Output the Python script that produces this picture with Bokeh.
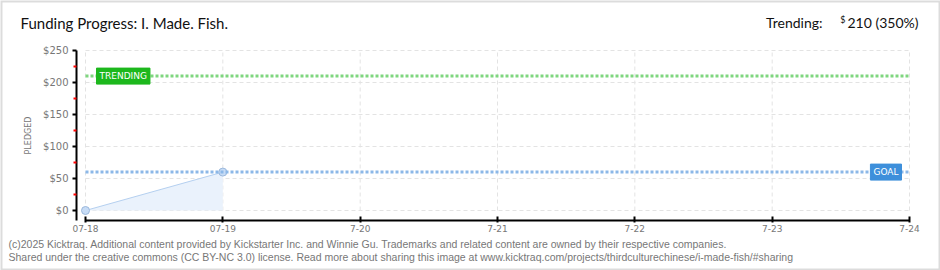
from bokeh.plotting import figure
from bokeh.models import (Label, FixedTicker, ColumnDataSource, Range1d, BoxAnnotation, LinearAxis)
from bokeh.embed import file_html
from bokeh.resources import INLINE

# ---- data ----
days = [0, 1]
pledged = [0, 60]
tick_days = [0, 1, 2, 3, 4, 5, 6]
tick_labels = ["07-18", "07-19", "7-20", "7-21", "7-22", "7-23", "7-24"]
y_ticks = [0, 50, 100, 150, 200, 250]
y_minor = [25, 75, 125, 175, 225]
y_tick_labels = ["$0", "$50", "$100", "$150", "$200", "$250"]
goal = 60
trending = 210
title_text = "Funding Progress: I. Made. Fish."
trend_head = "Trending:"
trend_cur = "$"
trend_val = "210 (350%)"
footer1 = "(c)2025 Kicktraq. Additional content provided by Kickstarter Inc. and Winnie Gu. Trademarks and related content are owned by their respective companies."
footer2 = "Shared under the creative commons (CC BY-NC 3.0) license. Read more about sharing this image at www.kicktraq.com/projects/thirdculturechinese/i-made-fish/#sharing"

W, H = 940, 270
# page-pixel geometry of the plotting area
X0, X6 = 85.0, 909.0     # page x of first / last day
Y0, Y250 = 210.0, 50.0   # page y of $0 / $250
dx = (X6 - X0) / (tick_days[-1] - tick_days[0])
dy = (Y0 - Y250) / 250.0

x_start = tick_days[0] - X0 / dx
x_end = tick_days[0] + (W - X0) / dx
y_start = -(H - Y0) / dy
y_end = Y0 / dy


def xd(px):
    return tick_days[0] + (px - X0) / dx


def yd(py):
    return (Y0 - py) / dy


def sx(px):
    return px


def sy(py):
    return H - py


p = figure(width=W, height=H, output_backend="svg", toolbar_location=None,
           x_range=Range1d(x_start, x_end), y_range=Range1d(y_start, y_end),
           x_axis_location=None, y_axis_location=None,
           min_border=0)
p.outline_line_color = None
p.background_fill_color = "white"
p.border_fill_color = "white"
p.xgrid.visible = False
p.ygrid.visible = False

# dashed grid
p.segment(x0=[tick_days[0]] * len(y_ticks), x1=[tick_days[-1]] * len(y_ticks), y0=y_ticks, y1=y_ticks,
          line_color="#e3e3e3", line_width=1, line_dash="4 3")
p.segment(x0=tick_days, x1=tick_days, y0=[y_ticks[0]] * len(tick_days), y1=[y_ticks[-1]] * len(tick_days),
          line_color="#e3e3e3", line_width=1, line_dash="4 3")

# x axis
xa = LinearAxis(fixed_location=yd(220))
xa.ticker = FixedTicker(ticks=tick_days)
xa.major_label_overrides = {d: l for d, l in zip(tick_days, tick_labels)}
xa.bounds = (tick_days[0], tick_days[-1])
xa.axis_line_color = "black"
xa.axis_line_width = 2
xa.major_tick_line_color = "black"
xa.major_tick_line_width = 2
xa.major_tick_in = 4
xa.major_tick_out = 2
xa.minor_tick_line_color = None
xa.major_label_text_font = "DejaVu Sans"
xa.major_label_text_font_size = "9px"
xa.major_label_text_color = "#777777"
xa.major_label_standoff = 2
p.add_layout(xa, "below")

# y axis
ya = LinearAxis(fixed_location=xd(76))
ya.ticker = FixedTicker(ticks=y_ticks, minor_ticks=y_minor)
ya.major_label_overrides = {v: l for v, l in zip(y_ticks, y_tick_labels)}
ya.bounds = (yd(220), y_ticks[-1])
ya.axis_line_color = "black"
ya.axis_line_width = 2
ya.major_tick_line_color = "black"
ya.major_tick_line_width = 2
ya.major_tick_in = 0
ya.major_tick_out = 4
ya.minor_tick_line_color = "red"
ya.minor_tick_line_width = 2
ya.minor_tick_in = 0
ya.minor_tick_out = 3
ya.major_label_text_font = "DejaVu Sans"
ya.major_label_text_font_size = "10px"
ya.major_label_text_color = "#777777"
ya.major_label_standoff = 4
ya.axis_label = "PLEDGED"
ya.axis_label_text_font = "DejaVu Sans"
ya.axis_label_text_font_size = "8px"
ya.axis_label_text_font_style = "normal"
ya.axis_label_text_color = "#777777"
ya.axis_label_standoff = 7
p.add_layout(ya, "left")

# pledged area + line + points
src = ColumnDataSource(dict(x=days, y=pledged, base=[0] * len(days)))
p.varea(x="x", y1="base", y2="y", source=src, fill_color="#eaf2fc")
p.line(x="x", y="y", source=src, line_color="#b5d0f0", line_width=1)
p.scatter(x="x", y="y", source=src, size=8, fill_color="#c7dcf6", line_color="#9bb8dc", line_width=1)

# goal and trending lines
x_span = [tick_days[0], tick_days[-1]]
p.line(x=x_span, y=[goal, goal], line_color="#8cb8e8", line_width=3, line_dash="3 2")
p.line(x=x_span, y=[trending, trending], line_color="#7fd67f", line_width=3, line_dash="3 2")

# badges
p.add_layout(Label(x=xd(96), y=trending, text="TRENDING", text_color="white", text_font="DejaVu Sans",
                   text_font_size="9px", text_baseline="middle", text_align="left",
                   background_fill_color="#1db81d", border_line_color="#1db81d",
                   padding=3))
p.add_layout(Label(x=xd(901), y=goal, text="GOAL", text_color="white", text_font="DejaVu Sans",
                   text_font_size="9px", text_baseline="middle", text_align="right",
                   background_fill_color="#3d8fdb", border_line_color="#3d8fdb",
                   padding=3))

# title / header / footer
p.add_layout(Label(x=sx(20), y=sy(22), x_units="screen", y_units="screen", text=title_text,
                   text_font="Lato", text_font_size="15px", text_color="#111111",
                   text_baseline="middle"))
p.add_layout(Label(x=sx(822), y=sy(22), x_units="screen", y_units="screen", text=trend_head,
                   text_font="Lato", text_font_size="14px", text_color="#111111",
                   text_baseline="middle", text_align="right"))
p.add_layout(Label(x=sx(845), y=sy(19), x_units="screen", y_units="screen", text=trend_cur,
                   text_font="Lato", text_font_size="9px", text_color="#111111",
                   text_baseline="middle", text_align="right"))
p.add_layout(Label(x=sx(918), y=sy(22), x_units="screen", y_units="screen", text=trend_val,
                   text_font="Lato", text_font_size="14px", text_color="#111111",
                   text_baseline="middle", text_align="right"))
p.add_layout(Label(x=sx(8), y=sy(243), x_units="screen", y_units="screen", text=footer1,
                   text_font="Liberation Sans", text_font_size="10.5px", text_color="#777777",
                   text_baseline="middle"))
p.add_layout(Label(x=sx(8), y=sy(256), x_units="screen", y_units="screen", text=footer2,
                   text_font="Liberation Sans", text_font_size="10.5px", text_color="#777777",
                   text_baseline="middle"))

# outer border (spans the whole frame = whole canvas)
p.add_layout(BoxAnnotation(fill_color=None, line_color="#8a8a8a", line_width=4))

open("out.html", "w").write(file_html(p, INLINE))
